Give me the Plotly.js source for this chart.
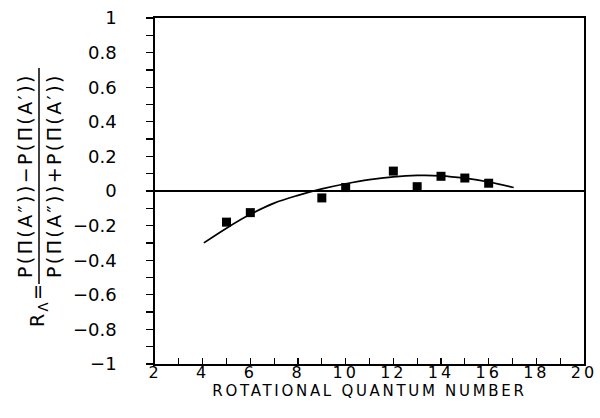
<!DOCTYPE html>
<html>
<head>
<meta charset="utf-8">
<script src="https://cdn.plot.ly/plotly-3.0.1.min.js"></script>
<style>
  body { margin: 0; padding: 0; background: #fff; }
  #chart { width: 600px; height: 418px; }
  .xtick text { letter-spacing: 3px; }
  .g-xtitle text { letter-spacing: 2.7px; }
  .annotation-text { letter-spacing: 2.4px; }
</style>
</head>
<body>
<div id="chart"></div>
<script>
// Measured data points
const pointX = [5, 6, 9, 10, 12, 13, 14, 15, 16];
const pointY = [-0.18, -0.125, -0.04, 0.02, 0.115, 0.025, 0.085, 0.075, 0.045];

// Fitted curve
const curveX = [4.05, 5, 6, 7, 8, 9, 10, 11, 12, 13, 14, 15, 16, 17.05];
const curveY = [-0.30, -0.215, -0.135, -0.07, -0.025, 0.012, 0.042, 0.066, 0.082, 0.09, 0.088, 0.074, 0.052, 0.02];

// Axis labels
const xTitle = 'ROTATIONAL QUANTUM NUMBER';
const yNumerator = 'P(Π(A″))−P(Π(A′))';
const yDenominator = 'P(Π(A″))+P(Π(A′))';
const yLead = 'R<sub>Λ</sub>=';

const FONT = 'DejaVu Sans, Liberation Sans, Arial, sans-serif';

const traces = [
  {
    x: curveX, y: curveY, type: 'scatter', mode: 'lines',
    line: { color: '#000', width: 1.7, shape: 'spline', smoothing: 1 },
    hoverinfo: 'skip', showlegend: false
  },
  {
    x: pointX, y: pointY, type: 'scatter', mode: 'markers',
    marker: { symbol: 'square', size: 9, color: '#000' },
    showlegend: false
  }
];

// plot area pixel geometry helpers (paper coords)
const L = 155, R = 584, T = 18, B = 364;
const px = v => (v - L) / (R - L);
const py = v => (B - v) / (B - T);

const layout = {
  width: 600, height: 418,
  margin: { l: L, r: 600 - R, t: T, b: 418 - B, pad: 0 },
  paper_bgcolor: '#fff', plot_bgcolor: '#fff',
  font: { family: FONT, color: '#000', size: 17 },
  showlegend: false,
  xaxis: {
    range: [2, 20], dtick: 2, tick0: 2,
    ticks: 'inside', ticklen: 6, tickwidth: 1.3, tickcolor: '#000',
    minor: { dtick: 1, ticks: 'inside', ticklen: 6, tickwidth: 1.3, tickcolor: '#000' },
    showline: true, linecolor: '#000', linewidth: 1.8, mirror: true,
    showgrid: false, zeroline: false,
    tickfont: { family: FONT, size: 16, color: '#000' },
    ticklabelstandoff: -7,
    title: { text: xTitle, font: { family: FONT, size: 15, color: '#000' }, standoff: 4 },
    automargin: false
  },
  yaxis: {
    range: [-1, 1], dtick: 0.2, tick0: 0,
    ticks: 'outside', ticklen: 7, tickwidth: 1.3, tickcolor: '#000',
    minor: { dtick: 0.1, ticks: 'outside', ticklen: 7, tickwidth: 1.3, tickcolor: '#000' },
    showline: true, linecolor: '#000', linewidth: 1.8, mirror: true,
    showgrid: false,
    zeroline: true, zerolinecolor: '#000', zerolinewidth: 1.8,
    tickfont: { family: FONT, size: 18, color: '#000' },
    ticklabelstandoff: 26,
    automargin: false
  },
  shapes: [
    { type: 'line', xref: 'paper', yref: 'paper',
      x0: px(39), x1: px(39), y0: py(284), y1: py(68),
      line: { color: '#000', width: 1.5 } }
  ],
  annotations: [
    { xref: 'paper', yref: 'paper', x: px(25), y: py(176), text: yNumerator,
      textangle: -90, showarrow: false, xanchor: 'center', yanchor: 'middle',
      font: { family: FONT, size: 19, color: '#000' } },
    { xref: 'paper', yref: 'paper', x: px(54), y: py(176), text: yDenominator,
      textangle: -90, showarrow: false, xanchor: 'center', yanchor: 'middle',
      font: { family: FONT, size: 19, color: '#000' } },
    { xref: 'paper', yref: 'paper', x: px(38), y: py(305), text: yLead,
      textangle: -90, showarrow: false, xanchor: 'center', yanchor: 'middle',
      font: { family: FONT, size: 19, color: '#000' } }
  ]
};

Plotly.newPlot('chart', traces, layout, { staticPlot: true, displayModeBar: false });
</script>
</body>
</html>
